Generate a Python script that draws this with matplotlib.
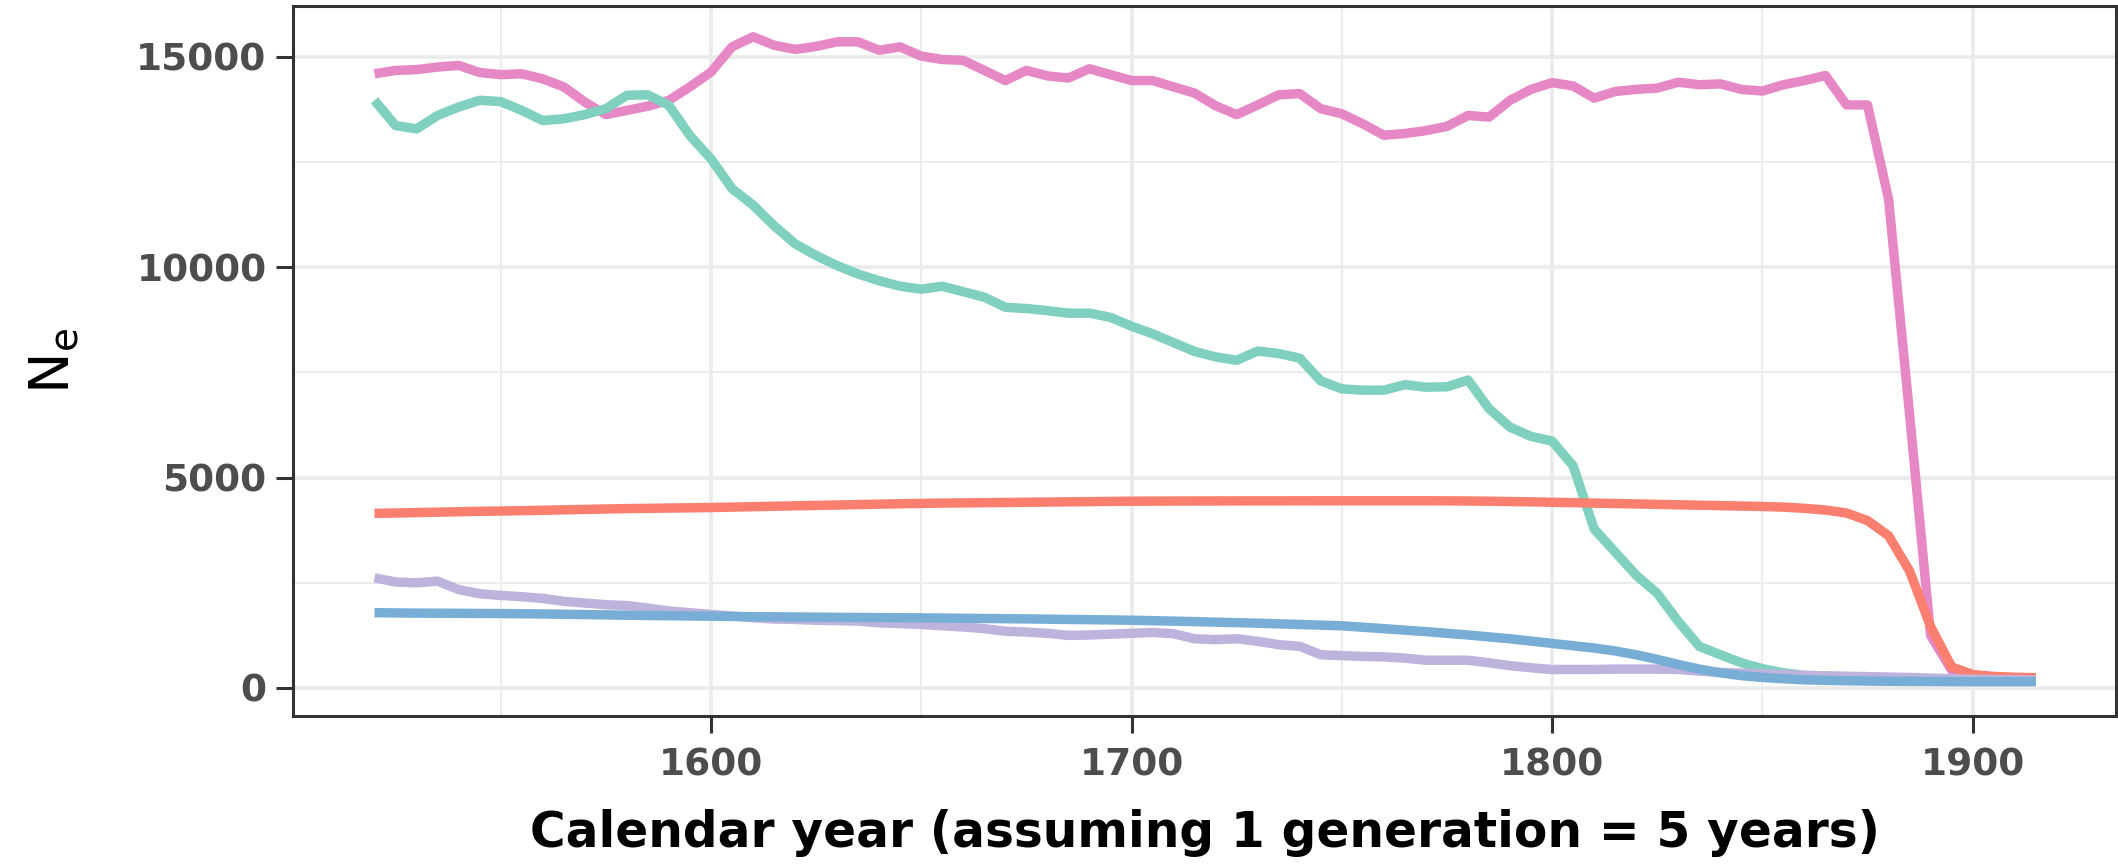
import matplotlib
matplotlib.use("Agg")
import matplotlib.pyplot as plt
import numpy as np

# calendar years, one point per generation (5 years)
years = np.arange(1520, 1920, 5)

ne_pink = [14600, 14680, 14700, 14760, 14800, 14630, 14580, 14600, 14480, 14290,
           13930, 13630, 13730, 13830, 13970, 14290, 14640, 15240, 15480, 15280,
           15180, 15250, 15360, 15360, 15160, 15240, 15020, 14940, 14920, 14680,
           14440, 14680, 14550, 14500, 14720, 14580, 14440, 14440, 14290, 14140,
           13840, 13630, 13860, 14100, 14130, 13770, 13650, 13410, 13140, 13180,
           13250, 13350, 13610, 13570, 13970, 14230, 14390, 14310, 14020, 14180,
           14230, 14260, 14400, 14340, 14360, 14230, 14190, 14340, 14440, 14560,
           13860, 13860, 11620, 6500, 1250, 420, 300, 260, 240, 230]

ne_teal = [13970, 13370, 13290, 13610, 13810, 13970, 13940, 13730, 13490, 13530,
           13630, 13770, 14090, 14100, 13850, 13130, 12580, 11870, 11480, 10990,
           10560, 10280, 10040, 9840, 9680, 9550, 9480, 9550, 9420, 9290,
           9050, 9020, 8970, 8910, 8910, 8810, 8600, 8420, 8210, 8000,
           7870, 7790, 8010, 7950, 7840, 7300, 7110, 7080, 7080, 7210,
           7150, 7160, 7320, 6640, 6200, 5980, 5870, 5280, 3780, 3230,
           2680, 2250, 1580, 990, 790, 600, 460, 360, 300, 270,
           250, 240, 230, 220, 210, 200, 190, 180, 170, 165]

ne_red = [4150, 4160, 4170, 4180, 4190, 4200, 4206, 4215, 4225, 4235,
          4245, 4255, 4265, 4270, 4278, 4283, 4290, 4300, 4310, 4320,
          4330, 4340, 4350, 4360, 4370, 4380, 4388, 4395, 4400, 4405,
          4410, 4415, 4420, 4425, 4430, 4435, 4440, 4442, 4444, 4445,
          4446, 4447, 4448, 4448, 4449, 4450, 4450, 4450, 4450, 4450,
          4450, 4448, 4445, 4440, 4432, 4425, 4415, 4405, 4395, 4385,
          4375, 4365, 4355, 4345, 4335, 4325, 4315, 4300, 4270, 4230,
          4160, 3980, 3620, 2780, 1460, 500, 320, 275, 255, 245]

ne_lavender = [2620, 2520, 2500, 2540, 2340, 2240, 2200, 2170, 2130, 2060,
               2020, 1980, 1960, 1900, 1830, 1790, 1750, 1710, 1670, 1640,
               1630, 1610, 1600, 1590, 1550, 1530, 1510, 1480, 1450, 1410,
               1350, 1330, 1300, 1250, 1260, 1280, 1300, 1320, 1290, 1170,
               1150, 1170, 1110, 1030, 990, 790, 770, 750, 740, 710,
               660, 660, 660, 600, 530, 480, 440, 440, 440, 450,
               450, 450, 440, 400, 370, 355, 340, 320, 300, 290,
               280, 270, 260, 250, 235, 220, 210, 200, 195, 190]

ne_blue = [1790, 1785, 1780, 1778, 1775, 1772, 1770, 1765, 1760, 1752,
           1745, 1738, 1730, 1724, 1718, 1712, 1706, 1700, 1695, 1692,
           1688, 1684, 1680, 1677, 1673, 1670, 1667, 1662, 1657, 1652,
           1647, 1642, 1636, 1630, 1624, 1618, 1611, 1600, 1590, 1578,
           1565, 1553, 1540, 1525, 1510, 1495, 1478, 1445, 1410, 1375,
           1340, 1300, 1260, 1215, 1170, 1115, 1060, 1005, 950, 880,
           790, 680, 560, 450, 360, 295, 250, 220, 195, 182,
           172, 165, 160, 157, 155, 152, 150, 150, 150, 150]

x_ticks = [1600, 1700, 1800, 1900]
y_ticks = [0, 5000, 10000, 15000]

plt.rcParams['font.family'] = ['DejaVu Sans']

fig = plt.figure(figsize=(21.18, 8.68), dpi=100, facecolor='white')
ax = fig.add_axes([0.1383, 0.1751, 0.8608, 0.818])

series = [
    (ne_pink, '#E788C6'),
    (ne_teal, '#7FD0BF'),
    (ne_red, '#FA7F6E'),
    (ne_lavender, '#BDB3DC'),
    (ne_blue, '#78ADD6'),
]
for vals, col in series:
    ax.plot(years, vals, color=col, lw=6.8, solid_capstyle='butt', solid_joinstyle='round', zorder=3)

ax.set_xlim(1500.6, 1934.1)
ax.set_ylim(-666, 16212)

ax.set_xticks(x_ticks)
ax.set_xticks([1550, 1650, 1750, 1850], minor=True)
ax.set_yticks(y_ticks)
ax.set_yticks([2500, 7500, 12500], minor=True)
ax.set_xticklabels([str(v) for v in x_ticks])
ax.set_yticklabels([str(v) for v in y_ticks])

ax.grid(which='major', color='#EBEBEB', lw=2.6, zorder=0)
ax.grid(which='minor', color='#EBEBEB', lw=1.3, zorder=0)
ax.set_axisbelow(True)

for s in ax.spines.values():
    s.set_color('#333333')
    s.set_linewidth(2.2)

ax.tick_params(which='major', length=12, width=2.2, color='#333333',
               labelsize=27, labelcolor='#4D4D4D')
ax.tick_params(which='minor', length=0)
ax.tick_params(axis='x', pad=11)
ax.tick_params(axis='y', pad=7)
for lab in ax.get_xticklabels() + ax.get_yticklabels():
    lab.set_fontweight('bold')

ax.set_xlabel('Calendar year (assuming 1 generation = 5 years)',
              fontsize=35, fontweight='bold', color='black', labelpad=18)
ax.set_ylabel(r'$\mathregular{N_e}$', fontsize=40, color='black', labelpad=40)

fig.savefig('out.png', dpi=100, facecolor='white')
